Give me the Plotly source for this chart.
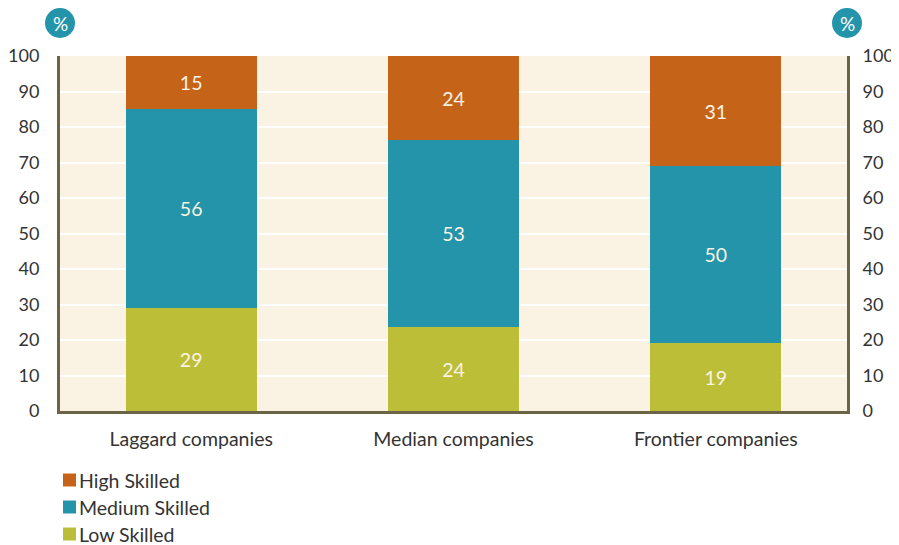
import plotly.graph_objects as go

categories = ["Laggard companies", "Median companies", "Frontier companies"]
# segment shares (%) as drawn, and the rounded labels printed on the bars
low_skilled = [29.1, 23.6, 19.1]
medium_skilled = [56.0, 52.6, 49.9]
high_skilled = [14.9, 23.8, 31.0]
low_labels = [29, 24, 19]
medium_labels = [56, 53, 50]
high_labels = [15, 24, 31]
y_ticks = [0, 10, 20, 30, 40, 50, 60, 70, 80, 90, 100]

FONT = "Lato"
C_LOW = "#BDBE38"
C_MED = "#2394A9"
C_HIGH = "#C56418"
BG = "#FAF3E3"
AXIS = "#6B6446"
TXT = "#333333"
FS = 19.5
FT = 18

series = [("Low Skilled", low_skilled, low_labels, C_LOW),
          ("Medium Skilled", medium_skilled, medium_labels, C_MED),
          ("High Skilled", high_skilled, high_labels, C_HIGH)]

fig = go.Figure()
for name, vals, labels, col in series:
    fig.add_trace(go.Bar(
        x=categories, y=vals, name=name, marker=dict(color=col, line=dict(width=0)),
        text=labels, texttemplate="%{text}", textposition="inside",
        insidetextanchor="middle", textangle=0, showlegend=False,
        textfont=dict(family=FONT, size=FS, color="#FAF3E3"),
    ))

# invisible trace for right axis
fig.add_trace(go.Scatter(x=categories, y=[None]*3, yaxis="y2", showlegend=False,
                         hoverinfo="skip"))

# page body has an 8px margin, so the figure is offset by 8px
fig.update_layout(
    width=891, height=537,
    margin=dict(l=52, r=52, t=48, b=134),
    barmode="stack", bargap=0.5,
    plot_bgcolor=BG, paper_bgcolor="white",
    font=dict(family=FONT, size=FS, color=TXT),
    uniformtext=dict(minsize=10, mode="show"),
    xaxis=dict(showgrid=False, showline=True, linecolor=AXIS, linewidth=3,
               ticks="", ticklabelstandoff=9, automargin=False,
               tickfont=dict(size=FS, color=TXT), fixedrange=True),
    yaxis=dict(range=[0, 100], tickvals=y_ticks, showgrid=True, gridcolor="white",
               gridwidth=2, showline=True, linecolor=AXIS, linewidth=3, ticks="",
               ticklabelstandoff=14, zeroline=False, automargin=False,
               tickfont=dict(size=FT, color=TXT)),
    yaxis2=dict(range=[0, 100], tickvals=y_ticks, overlaying="y", side="right",
                showgrid=False, showline=True, linecolor=AXIS, linewidth=3, ticks="",
                ticklabelstandoff=9, zeroline=False, automargin=False,
                tickfont=dict(size=FT, color=TXT)),
    showlegend=False,
)

# manual legend (top-to-bottom: High, Medium, Low)
for i, (name, vals, labels, col) in enumerate(reversed(series)):
    ypix = -69 - 27 * i
    fig.add_shape(type="rect", xref="paper", yref="paper",
                  xsizemode="pixel", ysizemode="pixel", xanchor=0, yanchor=0,
                  x0=3, x1=16, y0=ypix - 6.5, y1=ypix + 6.5,
                  fillcolor=col, line=dict(width=0))
    fig.add_annotation(x=0, y=0, xref="paper", yref="paper", text=name,
                       showarrow=False, xanchor="left", yanchor="middle",
                       xshift=17, yshift=ypix,
                       font=dict(family=FONT, size=FS, color=TXT))

for xp in [0, 1]:
    fig.add_shape(type="circle", xref="paper", yref="paper", layer="above",
                  xsizemode="pixel", ysizemode="pixel", xanchor=xp, yanchor=1,
                  x0=-15, x1=15, y0=18, y1=48, fillcolor=C_MED, line=dict(width=0))
    fig.add_annotation(x=xp, y=1, xref="paper", yref="paper", text="%",
                       showarrow=False, yshift=33, xanchor="center", yanchor="middle",
                       font=dict(family=FONT, size=19, color="white"))

fig.write_html("out.html")
